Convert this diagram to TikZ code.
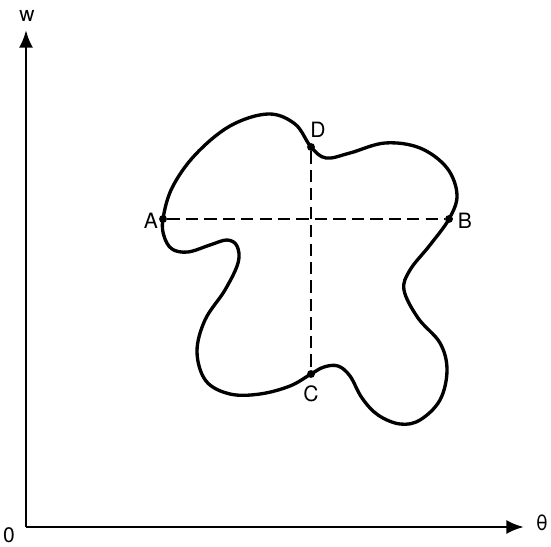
\documentclass[tikz,border=0pt]{standalone}
\usepackage{fontspec}
\setmainfont{TeX Gyre Heros}
\usetikzlibrary{arrows.meta}
\begin{document}
\begin{tikzpicture}[
        x=0.02cm, y=-0.02cm,
        axis/.style={line width=1.7pt, -{Latex[length=10pt,width=8pt]}},
        loop/.style={line width=1.9pt, line join=round},
        chord/.style={line width=0.9pt, dash pattern=on 7pt off 3.5pt},
        pt/.style={circle, fill, inner sep=0pt, minimum size=4.5pt},
        lbl/.style={font=\fontsize{12}{14}\selectfont, inner sep=1pt},
        >=latex
    ]
        \useasboundingbox (0,0) rectangle (551,547);

        % Axes
        \coordinate (O) at (26,527);
        \coordinate (wtip) at (26,30);
        \coordinate (ttip) at (524,527);
        \draw[axis] (O) -- (wtip);
        \draw[axis] (O) -- (ttip);
        \node[lbl] (lo) at (9,535) {0};
        \node[lbl] (lw) at (27,16) {w};
        \node[lbl] (lt) at (542,523) {θ};

        % Closed curve
        \draw[loop] plot[smooth cycle, tension=0.6] coordinates {
            (163,219) (172,188) (195,155) (230,126) (268,114) (295,124)
            (311,147) (326,158) (350,153) (385,143) (420,148) (447,168)
            (457,195) (449,219) (430,245) (410,270) (404,290) (418,318)
            (440,343) (447,370) (440,400) (420,420) (400,424) (378,415)
            (362,398) (350,376) (338,366) (324,367) (311,374) (290,386)
            (260,394) (230,394) (206,381) (197,352) (205,320) (225,290)
            (238,263) (237,246) (227,240) (210,245) (188,252) (172,249)
            (164,236)};

        % Points on the curve
        \node[pt] (A) at (163,219) {};
        \node[pt] (B) at (449,219) {};
        \node[pt] (D) at (311,147) {};
        \node[pt] (C) at (311,374) {};

        % Chords
        \draw[chord] (A) -- (B);
        \draw[chord] (D) -- (C);

        % Labels
        \node[lbl] (la) at (151,221) {A};
        \node[lbl] (lb) at (465,221) {B};
        \node[lbl] (ld) at (318,130) {D};
        \node[lbl] (lc) at (311,394) {C};
    \end{tikzpicture}
\end{document}
